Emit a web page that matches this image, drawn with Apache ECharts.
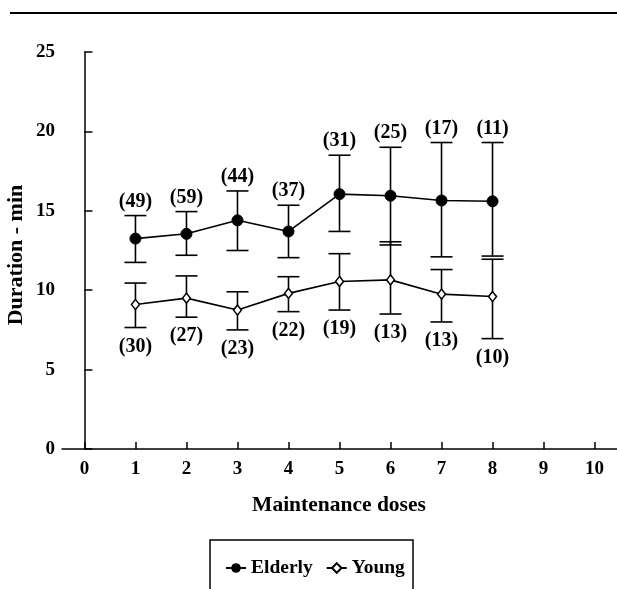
<!DOCTYPE html>
<html><head><meta charset="utf-8">
<script src="https://cdn.jsdelivr.net/npm/echarts@6/dist/echarts.min.js"></script>
<style>html,body{margin:0;padding:0;background:#fff}#c{width:617px;height:589px}</style>
</head><body><div id="c"></div>
<script>
var doses = [1, 2, 3, 4, 5, 6, 7, 8];
var elderlyMean = [13.25, 13.55, 14.4, 13.7, 16.05, 15.95, 15.65, 15.6];
var elderlyLow  = [11.75, 12.2, 12.5, 12.05, 13.7, 12.85, 12.1, 12.15];
var elderlyHigh = [14.7, 14.95, 16.25, 15.35, 18.5, 19.0, 19.3, 19.3];
var elderlyN    = [49, 59, 44, 37, 31, 25, 17, 11];
var youngMean = [9.1, 9.5, 8.75, 9.8, 10.55, 10.65, 9.75, 9.6];
var youngLow  = [7.65, 8.3, 7.5, 8.65, 8.75, 8.5, 8.0, 6.95];
var youngHigh = [10.45, 10.9, 9.9, 10.85, 12.3, 13.05, 11.3, 11.95];
var youngN    = [30, 27, 23, 22, 19, 13, 13, 10];
var xTicks = [0, 1, 2, 3, 4, 5, 6, 7, 8, 9, 10];

var FONT = '"Liberation Serif", "Times New Roman", serif';
var chart = echarts.init(document.getElementById('c'), null, {renderer: 'canvas'});

function pairs(m) { return doses.map(function (d, i) { return [d, m[i]]; }); }
function errData(lo, hi, n) { return doses.map(function (d, i) { return [d, lo[i], hi[i], n[i]]; }); }

function errRender(above) {
  return function (params, api) {
    var x = api.value(0), lo = api.value(1), hi = api.value(2), n = api.value(3);
    var pt = api.coord([x, hi]), pb = api.coord([x, lo]);
    var cw = 11;
    var st = {stroke: '#000', lineWidth: 1.6};
    var lbl = above ? {x: pt[0], y: pt[1] - 14} : {x: pb[0], y: pb[1] + 19};
    return {type: 'group', children: [
      {type: 'line', shape: {x1: pt[0], y1: pt[1], x2: pb[0], y2: pb[1]}, style: st},
      {type: 'line', shape: {x1: pt[0] - cw, y1: pt[1], x2: pt[0] + cw, y2: pt[1]}, style: st},
      {type: 'line', shape: {x1: pb[0] - cw, y1: pb[1], x2: pb[0] + cw, y2: pb[1]}, style: st},
      {type: 'text', x: lbl.x, y: lbl.y, style: {text: '(' + n + ')', font: 'bold 20px ' + FONT,
        fill: '#000', align: 'center', verticalAlign: 'middle'}}
    ]};
  };
}

chart.setOption({
  animation: false,
  backgroundColor: '#fff',
  grid: {left: 62, top: 52, width: 555, height: 397, containLabel: false},
  xAxis: {
    type: 'value', min: -0.44, max: 10.44,
    axisLine: {show: true, lineStyle: {color: '#000', width: 1.5}},
    axisTick: {show: true, inside: true, length: 7, customValues: xTicks, lineStyle: {color: '#000', width: 1.5}},
    axisLabel: {customValues: xTicks, color: '#000', fontFamily: FONT, fontWeight: 'bold', fontSize: 19, margin: 11},
    splitLine: {show: false}
  },
  yAxis: {
    type: 'value', min: 0, max: 25, interval: 5,
    axisLine: {show: true, lineStyle: {color: '#000', width: 1.5}},
    axisTick: {show: true, inside: true, length: 8, lineStyle: {color: '#000', width: 1.5}},
    axisLabel: {color: '#000', fontFamily: FONT, fontWeight: 'bold', fontSize: 19, margin: 7},
    splitLine: {show: false}
  },
  legend: {
    left: 220, top: 553, itemWidth: 20, itemHeight: 12, itemGap: 13,
    textStyle: {color: '#000', fontFamily: FONT, fontWeight: 'bold', fontSize: 19.5},
    data: ['Elderly', 'Young']
  },
  graphic: [
    {type: 'line', shape: {x1: 10, y1: 13, x2: 617, y2: 13}, style: {stroke: '#000', lineWidth: 2.2}},
    {type: 'rect', shape: {x: 210, y: 540, width: 203, height: 70}, style: {fill: 'none', stroke: '#000', lineWidth: 1.5}},
    {type: 'text', x: 16.5, y: 255, rotation: Math.PI / 2,
      style: {text: 'Duration - min', font: 'bold 22px ' + FONT, fill: '#000', align: 'center', verticalAlign: 'middle'}},
    {type: 'text', x: 339, y: 505,
      style: {text: 'Maintenance doses', font: 'bold 21.5px ' + FONT, fill: '#000', align: 'center', verticalAlign: 'middle'}}
  ],
  series: [
    {type: 'custom', name: 'eErr', renderItem: errRender(true), data: errData(elderlyLow, elderlyHigh, elderlyN), z: 1, silent: true},
    {type: 'custom', name: 'yErr', renderItem: errRender(false), data: errData(youngLow, youngHigh, youngN), z: 1, silent: true},
    {type: 'line', name: 'Elderly', data: pairs(elderlyMean), symbol: 'circle', symbolSize: 11,
      lineStyle: {color: '#000', width: 1.6}, itemStyle: {color: '#000', borderColor: '#000'}, z: 3},
    {type: 'line', name: 'Young', data: pairs(youngMean), symbol: 'diamond', symbolSize: [8, 10],
      lineStyle: {color: '#000', width: 1.6}, itemStyle: {color: '#fff', borderColor: '#000', borderWidth: 1.5}, z: 3}
  ]
});
</script></body></html>
